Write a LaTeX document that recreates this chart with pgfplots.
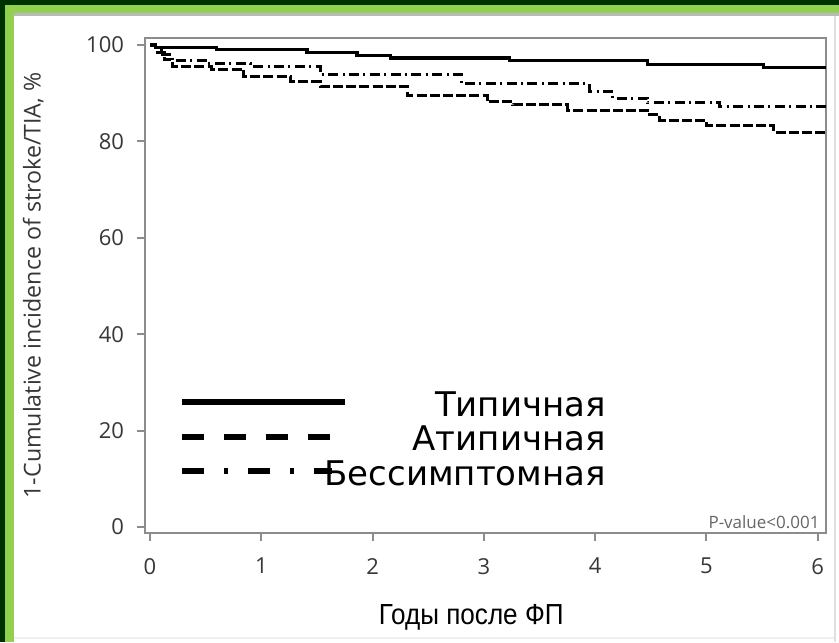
\documentclass[border=0pt]{standalone}
\usepackage{fontspec}
\usepackage{pgfplots}
\pgfplotsset{compat=1.18}
\setmainfont{Open Sans}
\newfontfamily\legfont{DejaVu Sans}
\newfontfamily\xlabfont[FakeStretch=0.9]{Liberation Sans}
\definecolor{dkgreen}{RGB}{0,50,0}
\definecolor{ltgreen}{RGB}{146,208,80}
\definecolor{axgray}{RGB}{140,140,140}
\definecolor{txtgray}{RGB}{55,55,55}
\begin{document}
\begin{tikzpicture}[x=0.5pt,y=0.5pt]
\fill[white] (0,0) rectangle (839,642);
\fill[dkgreen] (0,0) rectangle (5,642);
\fill[dkgreen] (0,637) rectangle (839,642);
\fill[ltgreen] (5,0) rectangle (14,637);
\fill[ltgreen] (5,629) rectangle (839,637);
\fill[gray!55] (14,626) rectangle (839,629);
\fill[gray!25] (834,0) rectangle (836,626);
\fill[black!6] (14,3) rectangle (834,5);
\begin{axis}[
  at={(72.5pt,54.5pt)}, anchor=south west, scale only axis,
  width=340.5pt, height=247.5pt,
  xmin=-0.045, xmax=6.074, ymin=-1.24, ymax=101.45,
  xtick={0,1,2,3,4,5,6}, ytick={0,20,40,60,80,100},
  tick pos=left, tick align=outside, major tick length=4pt,
  axis line style={axgray, line width=1pt},
  every tick/.style={axgray, line width=1pt},
  tick label style={font=\fontsize{11}{13}\selectfont, text=txtgray},
  /pgf/number format/assume math mode=true,
  yticklabel style={xshift=-3pt},
  xticklabel style={yshift=-5pt},
  ylabel={1-Cumulative incidence of stroke/TIA, \%},
  ylabel style={at={(axis description cs:-0.164,0.5)}, anchor=center, font=\fontsize{11.6}{13}\selectfont, text=txtgray},
  xlabel={Годы после ФП},
  xlabel style={at={(axis description cs:0.479,-0.17)}, anchor=center, font=\xlabfont\fontsize{14.5}{16}\selectfont},
  clip=false,
]
% Типичная
\addplot[const plot, black, line width=1.6pt] coordinates {
(0,100) (0.05,99.5) (0.6,99.0) (1.41,98.5) (1.86,97.9) (2.16,97.3) (3.23,96.7) (4.47,96.0) (5.51,95.3) (6.07,95.3)};
% Атипичная
\addplot[const plot, black, line width=1.5pt, dash pattern=on 5pt off 1.6pt] coordinates {
(0,100) (0.05,98.5) (0.13,96.9) (0.2,95.5) (0.55,95.0) (0.84,93.4) (1.26,92.4) (1.53,91.4) (2.31,89.6) (3.03,88.2) (3.26,87.6) (3.75,86.5) (4.47,85.5) (4.58,84.4) (5.0,83.3) (5.6,81.9) (6.07,81.9)};
% Бессимптомная
\addplot[const plot, black, line width=1.5pt, dash pattern=on 5pt off 2.2pt on 1pt off 2.2pt] coordinates {
(0,100) (0.05,99.0) (0.1,98.0) (0.2,96.7) (0.5,96.2) (0.9,95.5) (1.53,93.8) (2.8,92.0) (3.95,90.4) (4.16,89.0) (4.47,88.0) (5.12,87.2) (6.07,87.2)};
% legend
\draw[black, line width=3pt] (axis cs:0.287,25.9) -- (axis cs:1.749,25.9);
\draw[black, line width=3pt, dash pattern=on 11pt off 10pt] (axis cs:0.287,18.7) -- (axis cs:1.632,18.7);
\draw[black, line width=3pt, dash pattern=on 11pt off 10pt on 2pt off 10pt] (axis cs:0.287,11.6) -- (axis cs:1.632,11.6);
\node[anchor=east, inner sep=0pt, font=\legfont\fontsize{17}{20}\selectfont] at (axis cs:4.099,25.5) {Типичная};
\node[anchor=east, inner sep=0pt, font=\legfont\fontsize{17}{20}\selectfont] at (axis cs:4.099,18.3) {Атипичная};
\node[anchor=east, inner sep=0pt, font=\legfont\fontsize{17}{20}\selectfont] at (axis cs:4.099,11.2) {Бессимптомная};
\node[anchor=east, inner sep=0pt, font=\fontsize{8.5}{10}\selectfont, text=black!60] at (axis cs:6.02,1.0) {P-value<0.001};
\end{axis}
\end{tikzpicture}
\end{document}
